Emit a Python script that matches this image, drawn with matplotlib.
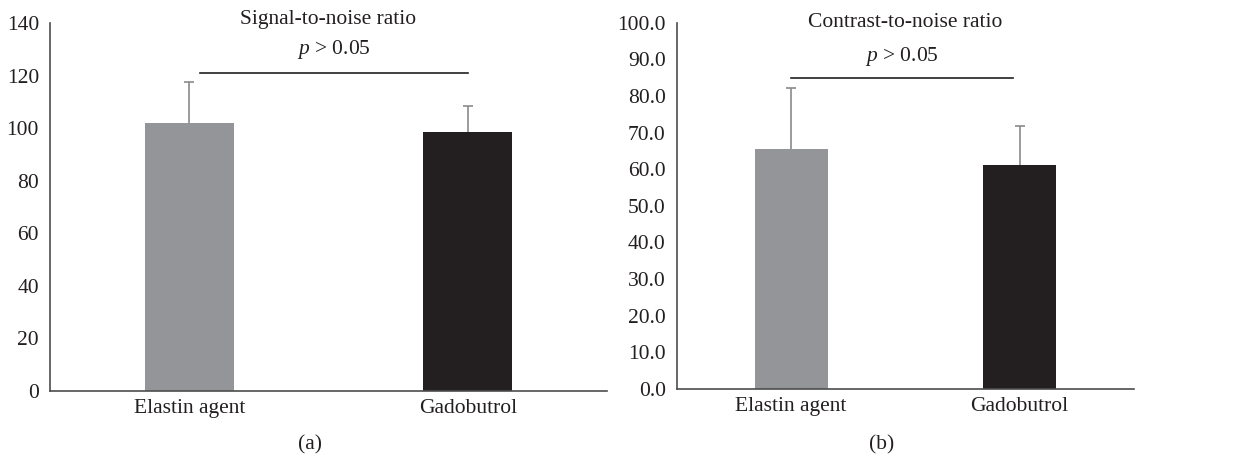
import matplotlib
matplotlib.use("Agg")
import matplotlib.pyplot as plt

categories = ["Elastin agent", "Gadobutrol"]
snr_mean = [102.0, 98.7]
snr_err = [15.5, 9.8]
cnr_mean = [65.6, 61.1]
cnr_err = [16.7, 10.6]
snr_ticks = [0, 20, 40, 60, 80, 100, 120, 140]
cnr_ticks = [0, 10, 20, 30, 40, 50, 60, 70, 80, 90, 100]

BAR_COLORS = ["#939598", "#231f20"]
TEXT = "#231f20"
ERR = "#8a8a8a"
FS = 15.5

plt.rcParams["font.family"] = ["Liberation Serif", "DejaVu Serif"]
plt.rcParams["mathtext.fontset"] = "custom"
plt.rcParams["mathtext.it"] = "Liberation Serif:italic"
plt.rcParams["mathtext.rm"] = "Liberation Serif"


def panel(ax, means, errs, ticks, fmt, title, p_y, line_y, line_x, title_y):
    x = list(range(len(categories)))
    tops = [m + e for m, e in zip(means, errs)]
    ax.bar(x, means, width=0.32, color=BAR_COLORS, zorder=2)
    # upper-only error bars, cap on top only
    ax.vlines(x, means, tops, color=ERR, lw=1.2, zorder=3)
    ax.plot(x, tops, ls="none", marker="_", ms=7, mew=1.2, color=ERR, zorder=3)
    ax.set_xlim(-0.5, 1.5)
    ax.set_ylim(ticks[0], ticks[-1])
    ax.set_yticks(ticks)
    ax.set_yticklabels([fmt.format(t) for t in ticks], fontsize=FS, color=TEXT)
    ax.set_xticks(x)
    ax.set_xticklabels(categories, fontsize=FS, color=TEXT)
    ax.tick_params(length=0, pad=6)
    ax.tick_params(axis="y", pad=8)
    for s in ("top", "right"):
        ax.spines[s].set_visible(False)
    for s in ("left", "bottom"):
        ax.spines[s].set_color("#4d4d4d")
        ax.spines[s].set_linewidth(1.2)
    ax.plot(line_x, [line_y, line_y], color=TEXT, lw=1.2, clip_on=False)
    ax.text(sum(line_x) / 2, p_y, "$p$ > 0.05", ha="center", va="center",
            fontsize=FS, color=TEXT)
    ax.text(0.5, title_y, title, transform=ax.transAxes, ha="center", va="center",
            fontsize=FS, color=TEXT)


fig = plt.figure(figsize=(12.33, 4.57), dpi=100)
ax_a = fig.add_axes([0.0406, 0.1444, 0.4517, 0.805])
ax_b = fig.add_axes([0.549, 0.1488, 0.3706, 0.8015])

panel(ax_a, snr_mean, snr_err, snr_ticks, "{:d}", "Signal-to-noise ratio",
      130, 121, [0.04, 1.0], 1.01)
panel(ax_b, cnr_mean, cnr_err, cnr_ticks, "{:.1f}", "Contrast-to-noise ratio",
      90.8, 85, [0.0, 0.97], 1.0)

fig.text(310 / 1233, 1 - 445 / 457, "(a)", ha="center", va="center", fontsize=FS, color=TEXT)
fig.text(882 / 1233, 1 - 445 / 457, "(b)", ha="center", va="center", fontsize=FS, color=TEXT)

fig.savefig("out.png", dpi=100)
